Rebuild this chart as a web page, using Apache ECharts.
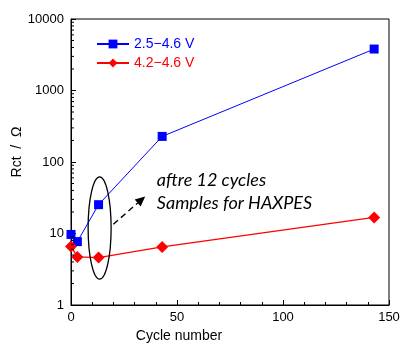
<!DOCTYPE html>
<html><head><meta charset="utf-8">
<script src="https://cdn.jsdelivr.net/npm/echarts@6/dist/echarts.min.js"></script>
<style>html,body{margin:0;padding:0;background:#fff}#c{width:402px;height:348px}</style>
</head><body><div id="c"></div>
<script>
const seriesNames = ['2.5\u22124.6 V', '4.2\u22124.6 V'];
const cyclesA = [0, 3, 13, 43, 143];
const rctA = [9.7, 7.7, 25.3, 228, 3800];
const cyclesB = [0, 3, 13, 43, 143];
const rctB = [6.6, 4.7, 4.6, 6.5, 16.8];
const minorTickValues = [2,3,4,5,6,7,8,9,20,30,40,50,60,70,80,90,200,300,400,500,600,700,800,900,2000,3000,4000,5000,6000,7000,8000,9000];
const annotationLines = ['aftre 12 cycles', 'Samples for HAXPES'];

const chart = echarts.init(document.getElementById('c'), null, {renderer: 'canvas'});
const font = 'Liberation Sans';
chart.setOption({
  animation: false,
  grid: {left: 71, right: 13, top: 19, bottom: 43, show: true, borderColor: '#000', borderWidth: 1, containLabel: false, outerBoundsMode: 'none'},
  legend: {
    left: 96, top: 37, padding: 0, orient: 'vertical', itemWidth: 32, itemHeight: 11, itemGap: 5,
    data: [
      {name: seriesNames[0], textStyle: {color: '#0000ff'}},
      {name: seriesNames[1], textStyle: {color: '#ff0000'}}
    ],
    textStyle: {fontFamily: font, fontSize: 14}
  },
  xAxis: {
    type: 'value', min: 0, max: 150, interval: 50,
    name: 'Cycle number', nameLocation: 'middle', nameGap: 24, nameMoveOverlap: false,
    nameTextStyle: {fontFamily: font, fontSize: 14, color: '#000', padding: [0, 102, 0, 0]},
    axisLine: {lineStyle: {color: '#000', width: 1}},
    axisTick: {inside: true, length: 5, lineStyle: {color: '#000'}},
    minorTick: {show: true, splitNumber: 5, length: 3, lineStyle: {color: '#000'}},
    axisLabel: {fontFamily: font, fontSize: 13, color: '#000', margin: 6},
    splitLine: {show: false}
  },
  yAxis: {
    type: 'log', logBase: 10, min: 1, max: 10000,
    name: 'Rct  /  \u03a9', nameLocation: 'middle', nameGap: 47, nameRotate: 90, nameMoveOverlap: false,
    nameTextStyle: {fontFamily: font, fontSize: 14, color: '#000', padding: [0, 0, 0, 20]},
    axisLine: {show: true, lineStyle: {color: '#000', width: 1}},
    axisTick: {inside: true, length: 5, lineStyle: {color: '#000'}},
    axisLabel: {fontFamily: font, fontSize: 13, color: '#000', margin: 7, formatter: v => String(Math.round(v))},
    splitLine: {show: false}
  },
  series: [
    {
      name: seriesNames[0], type: 'line', data: cyclesA.map((c, i) => [c, rctA[i]]),
      symbol: 'rect', symbolSize: 9, color: '#0000ff',
      lineStyle: {color: '#0000ff', width: 1}, itemStyle: {color: '#0000ff'}, z: 3
    },
    {
      name: seriesNames[1], type: 'line', data: cyclesB.map((c, i) => [c, rctB[i]]),
      symbol: 'diamond', symbolSize: 12, color: '#ff0000',
      lineStyle: {color: '#ff0000', width: 1.3}, itemStyle: {color: '#ff0000'}, z: 3
    },
    {
      type: 'custom', silent: true, clip: false, z: 5,
      data: minorTickValues.map(v => [0, v]),
      renderItem: function (params, api) {
        const p = api.coord([0, api.value(1)]);
        return {type: 'line', shape: {x1: p[0], y1: p[1], x2: p[0] + 3, y2: p[1]}, style: {stroke: '#000', lineWidth: 1}};
      }
    }
  ]
});

// annotations anchored to data space
const c0 = chart.convertToPixel({gridIndex: 0}, [13.5, 11.9]);
const cTop = chart.convertToPixel({gridIndex: 0}, [13.5, 62]);
const cBot = chart.convertToPixel({gridIndex: 0}, [13.5, 2.3]);
const a0 = chart.convertToPixel({gridIndex: 0}, [20, 13.5]);
const a1 = chart.convertToPixel({gridIndex: 0}, [35, 33]);
const t0 = chart.convertToPixel({gridIndex: 0}, [40.5, 80]);
const ry = (cBot[1] - cTop[1]) / 2;
const ang = Math.atan2(a1[1] - a0[1], a1[0] - a0[0]);
const hl = 10, hw = 4.5;
const bx = a1[0] - hl * Math.cos(ang), by = a1[1] - hl * Math.sin(ang);
chart.setOption({
  graphic: [
    {type: 'ellipse', shape: {cx: c0[0], cy: (cTop[1] + cBot[1]) / 2, rx: 11.5, ry: ry}, style: {fill: 'none', stroke: '#000', lineWidth: 1.3}, z: 10},
    {type: 'line', shape: {x1: a0[0], y1: a0[1], x2: bx, y2: by}, style: {stroke: '#000', lineWidth: 1.4, lineDash: [6, 4]}, z: 10},
    {type: 'polygon', shape: {points: [[a1[0], a1[1]], [bx + hw * Math.sin(ang), by - hw * Math.cos(ang)], [bx - hw * Math.sin(ang), by + hw * Math.cos(ang)]]}, style: {fill: '#000'}, z: 10},
    {type: 'text', x: t0[0], y: t0[1], style: {text: annotationLines.join('\n'), font: 'italic 18px Lato', fill: '#000', lineHeight: 23, verticalAlign: 'top'}, z: 10}
  ]
});
</script></body></html>
